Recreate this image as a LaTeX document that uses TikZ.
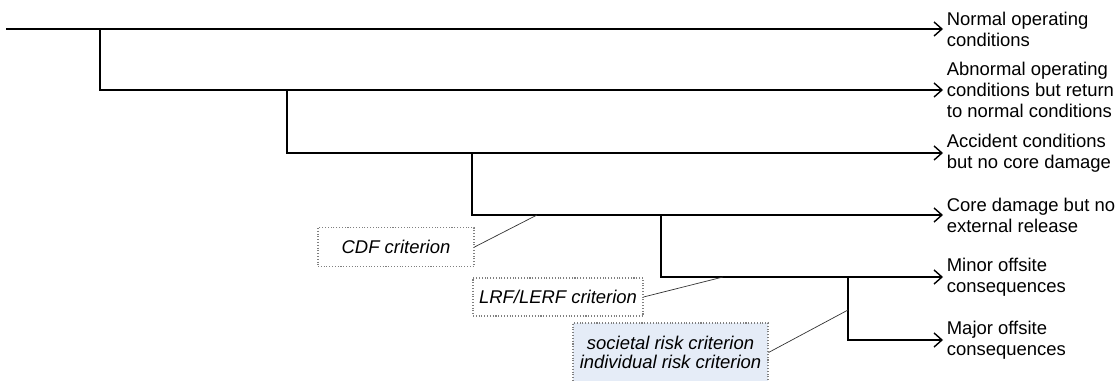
\documentclass[tikz,border=0pt]{standalone}
\usepackage{fontspec}
\setmainfont{Liberation Sans}
\usetikzlibrary{arrows.meta,calc,positioning}
\definecolor{critblue}{RGB}{229,236,247}

\begin{document}
\begin{tikzpicture}[x=0.02cm,y=-0.02cm,
  outcome/.style={anchor=west,align=left,inner sep=2pt,font=\fontsize{10.5}{12}\selectfont},
  branch/.style={line width=0.9pt,-{Straight Barb[length=4.5pt,width=8pt,line width=0.8pt]}},
  crit/.style={draw=gray,densely dotted,line width=0.6pt,align=center,inner xsep=2pt,font=\fontsize{10.5}{11}\selectfont\itshape},
  callout/.style={line width=0.4pt,black!80}]

\useasboundingbox (0,0) rectangle (1115,381);

% Nodes
\node[outcome] (o1) at (943,29) {Normal operating\\conditions};
\node[outcome] (o2) at (943,90) {Abnormal operating\\conditions but return\\to normal conditions};
\node[outcome] (o3) at (943,153) {Accident conditions\\but no core damage};
\node[outcome] (o4) at (943,215) {Core damage but no\\external release};
\node[outcome] (o5) at (943,277) {Minor offsite\\consequences};
\node[outcome] (o6) at (943,340) {Major offsite\\consequences};

\coordinate (start) at (6,29);
\coordinate (b1) at (100,29);
\coordinate (b2) at (287,90);
\coordinate (b3) at (472,153);
\coordinate (b4) at (661,215);
\coordinate (b5) at (848,277);

\node[crit,minimum width=156*0.02cm,minimum height=39*0.02cm] (cdf) at (396,247) {CDF criterion};
\node[crit,minimum width=170*0.02cm,minimum height=38*0.02cm] (lrf) at (558,297) {LRF/LERF criterion};
\node[crit,fill=critblue,minimum width=195*0.02cm,minimum height=59*0.02cm] (risk) at (670.5,352.5) {societal risk criterion\\individual risk criterion};

\coordinate (c1) at (537,215);
\coordinate (c2) at (723,277);
\coordinate (c3) at (848,310);

%arcs
\draw[branch] (start) -- (o1.west);
\draw[branch] (b1) |- (o2.west);
\draw[branch] (b2) |- (o3.west);
\draw[branch] (b3) |- (o4.west);
\draw[branch] (b4) |- (o5.west);
\draw[branch] (b5) |- (o6.west);

\draw[callout] (cdf.east) -- (c1);
\draw[callout] (lrf.east) -- (c2);
\draw[callout] (risk.east) -- (c3);
\end{tikzpicture}
\end{document}
